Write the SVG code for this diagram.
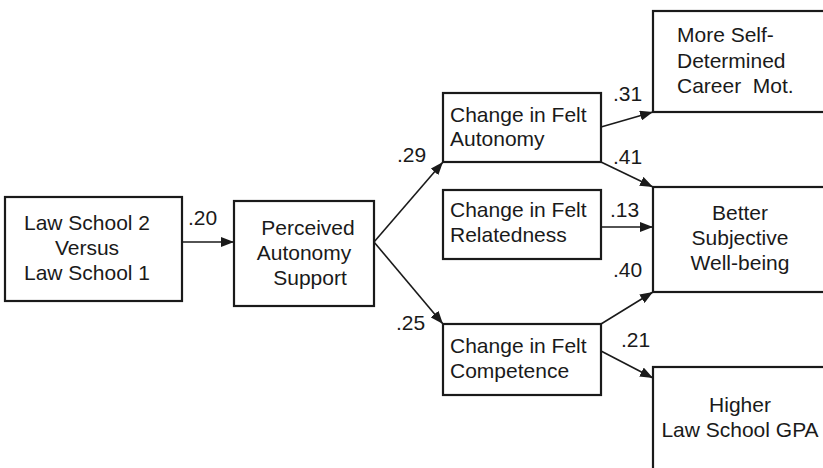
<svg xmlns="http://www.w3.org/2000/svg" width="823" height="468" viewBox="0 0 823 468">
<style>
.box{fill:#fff;stroke:#1a1a1a;stroke-width:2.2}
.t{font-family:"Liberation Sans",Arial,sans-serif;font-size:21px;fill:#1a1a1a}
.c{text-anchor:middle}
.e{stroke:#1a1a1a;stroke-width:1.6;fill:none;marker-end:url(#ah)}
</style>
<defs>
<marker id="ah" markerUnits="userSpaceOnUse" markerWidth="14" markerHeight="10" refX="13" refY="5" orient="auto">
<path d="M0,0 L13,5 L0,10 Z" fill="#1a1a1a"/>
</marker>
</defs>
<g id="n-ls">
<rect class="box" x="5" y="197" width="177" height="104"/>
<text class="t c" x="87" y="230">Law School 2</text>
<text class="t c" x="87" y="255">Versus</text>
<text class="t c" x="87" y="280">Law School 1</text>
</g>
<g id="n-pas">
<rect class="box" x="234" y="201" width="140" height="105"/>
<text class="t c" x="308" y="235">Perceived</text>
<text class="t c" x="304" y="260">Autonomy</text>
<text class="t c" x="310" y="285">Support</text>
</g>
<g id="n-aut">
<rect class="box" x="443" y="93" width="158" height="69"/>
<text class="t" x="450" y="122">Change in Felt</text>
<text class="t" x="450" y="146">Autonomy</text>
</g>
<g id="n-rel">
<rect class="box" x="443" y="190" width="158" height="69"/>
<text class="t" x="450" y="217">Change in Felt</text>
<text class="t" x="450" y="242">Relatedness</text>
</g>
<g id="n-comp">
<rect class="box" x="443" y="324" width="158" height="71"/>
<text class="t" x="450" y="353">Change in Felt</text>
<text class="t" x="450" y="378">Competence</text>
</g>
<g id="n-career">
<rect class="box" x="653" y="11" width="180" height="101"/>
<text class="t" x="677" y="42">More Self-</text>
<text class="t" x="677" y="68">Determined</text>
<text class="t" x="677" y="93" xml:space="preserve">Career  Mot.</text>
</g>
<g id="n-swb">
<rect class="box" x="653" y="187" width="180" height="105"/>
<text class="t c" x="740" y="220">Better</text>
<text class="t c" x="740" y="245">Subjective</text>
<text class="t c" x="740" y="270">Well-being</text>
</g>
<g id="n-gpa">
<rect class="box" x="653" y="367" width="180" height="120"/>
<text class="t c" x="740" y="412">Higher</text>
<text class="t c" x="740" y="437">Law School GPA</text>
</g>
<g id="edges">
<line class="e" x1="182" y1="242" x2="234" y2="242"/>
<line class="e" x1="374" y1="242" x2="443" y2="162"/>
<line class="e" x1="374" y1="242" x2="443" y2="324"/>
<line class="e" x1="601" y1="127" x2="653" y2="112"/>
<line class="e" x1="601" y1="162" x2="653" y2="187"/>
<line class="e" x1="601" y1="227" x2="653" y2="227"/>
<line class="e" x1="601" y1="324" x2="653" y2="292"/>
<line class="e" x1="601" y1="351" x2="653" y2="378"/>
</g>
<g id="labels">
<text class="t" x="188" y="225">.20</text>
<text class="t" x="397" y="162">.29</text>
<text class="t" x="396" y="330">.25</text>
<text class="t" x="613" y="101">.31</text>
<text class="t" x="613" y="164">.41</text>
<text class="t" x="610" y="217">.13</text>
<text class="t" x="613" y="277">.40</text>
<text class="t" x="621" y="347">.21</text>
</g>
</svg>
